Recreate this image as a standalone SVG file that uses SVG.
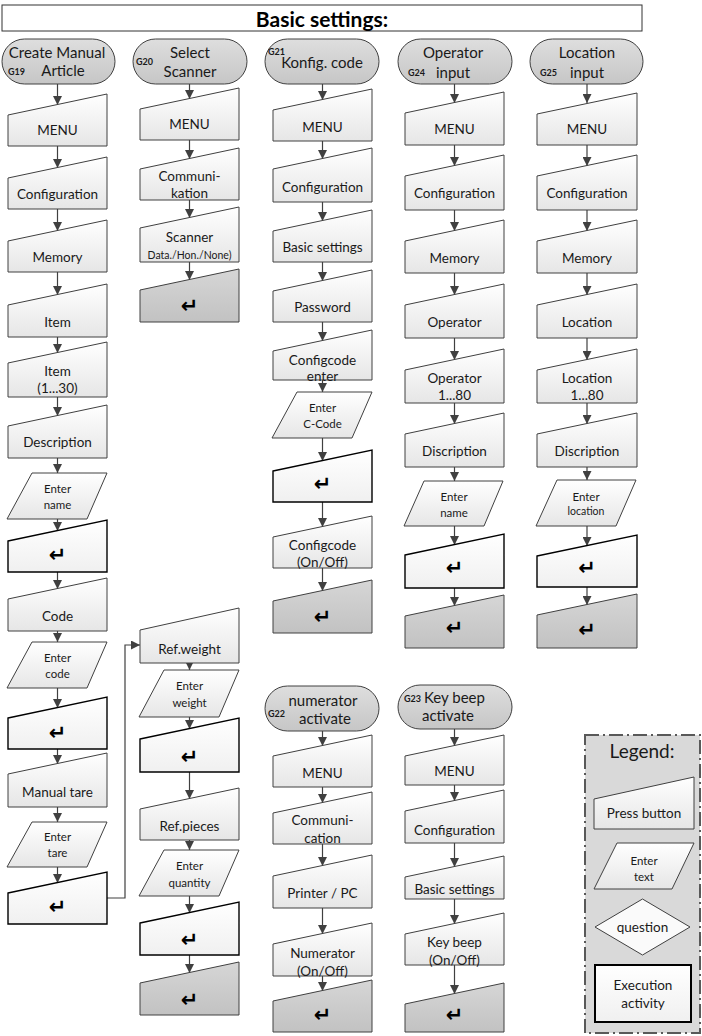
<svg xmlns="http://www.w3.org/2000/svg" width="702" height="1036" viewBox="0 0 702 1036">
<style>
.box{fill:url(#gL);stroke:#404040;stroke-width:1}
.ent{fill:url(#gW);stroke:#000;stroke-width:1.4}
.gray{fill:url(#gG);stroke:#404040;stroke-width:1}
.pill{fill:url(#gP);stroke:#404040;stroke-width:1}
.t{font-family:Lato,"Liberation Sans",sans-serif;font-size:13.5px;fill:#1a1a1a;text-anchor:middle;dominant-baseline:central}
.s{font-size:11.5px}
.xs{font-size:10.5px}
.p{font-size:15px}
.g{font-size:9px;font-weight:bold;text-anchor:start}
.ret{font-family:"DejaVu Sans",sans-serif;font-size:21px;font-weight:bold;fill:#000;text-anchor:middle;dominant-baseline:central}
.c{fill:none;stroke:#404040;stroke-width:1.2;marker-end:url(#ah)}
</style>
<defs>
<linearGradient id="gL" x1="0" y1="0" x2="0" y2="1"><stop offset="0" stop-color="#ffffff"/><stop offset="1" stop-color="#e6e6e6"/></linearGradient>
<linearGradient id="gW" x1="0" y1="0" x2="0" y2="1"><stop offset="0" stop-color="#ffffff"/><stop offset="1" stop-color="#f0f0f0"/></linearGradient>
<linearGradient id="gG" x1="0" y1="0" x2="0" y2="1"><stop offset="0" stop-color="#d6d6d6"/><stop offset="1" stop-color="#c2c2c2"/></linearGradient>
<linearGradient id="gP" x1="0" y1="0" x2="0" y2="1"><stop offset="0" stop-color="#dedede"/><stop offset="1" stop-color="#c6c6c6"/></linearGradient>
<marker id="ah" viewBox="0 0 10 10" refX="10" refY="5" markerWidth="9" markerHeight="9" markerUnits="userSpaceOnUse" orient="auto"><path d="M0,0 L10,5 L0,10 z" fill="#404040"/></marker>
</defs>
<rect width="702" height="1036" fill="#fff"/>

<g id="title">
<rect x="2" y="5" width="640" height="26" fill="#fff" stroke="#333" stroke-width="1"/>
<text class="t" x="322" y="18" style="font-size:21px;font-weight:bold;fill:#000">Basic settings:</text>
</g>

<g id="connectors">
<path class="c" d="M57.5,84 V105"/>
<path class="c" d="M57.5,146 V168"/>
<path class="c" d="M57.5,209 V231"/>
<path class="c" d="M57.5,272 V295"/>
<path class="c" d="M57.5,337 V353"/>
<path class="c" d="M57.5,397 V416"/>
<path class="c" d="M57.5,458 V473"/>
<path class="c" d="M57.5,519 V531"/>
<path class="c" d="M57.5,572 V589"/>
<path class="c" d="M57.5,631 V642"/>
<path class="c" d="M57.5,688 V708"/>
<path class="c" d="M57.5,749 V764"/>
<path class="c" d="M57.5,807 V822"/>
<path class="c" d="M57.5,867 V883"/>
<path class="c" d="M107,898 H125 V645 H140"/>
<path class="c" d="M189.5,84 V99"/>
<path class="c" d="M189.5,140 V159"/>
<path class="c" d="M189.5,200 V218"/>
<path class="c" d="M189.5,262 V280"/>
<path class="c" d="M189.5,663 V670"/>
<path class="c" d="M189.5,717 V729"/>
<path class="c" d="M189.5,772 V799"/>
<path class="c" d="M189.5,840 V850"/>
<path class="c" d="M189.5,896 V913"/>
<path class="c" d="M189.5,955 V973"/>
<path class="c" d="M322.5,84 V100"/>
<path class="c" d="M322.5,141 V159"/>
<path class="c" d="M322.5,202 V221"/>
<path class="c" d="M322.5,262 V281"/>
<path class="c" d="M322.5,322 V341"/>
<path class="c" d="M322.5,380 V392"/>
<path class="c" d="M322.5,438 V461"/>
<path class="c" d="M322.5,502 V527"/>
<path class="c" d="M322.5,568 V591"/>
<path class="c" d="M322.5,731 V746"/>
<path class="c" d="M322.5,787 V803"/>
<path class="c" d="M322.5,844 V866"/>
<path class="c" d="M322.5,908 V934"/>
<path class="c" d="M322.5,976 V991"/>
<path class="c" d="M454.5,84 V103"/>
<path class="c" d="M454.5,145 V166"/>
<path class="c" d="M454.5,210 V231"/>
<path class="c" d="M454.5,273 V295"/>
<path class="c" d="M454.5,338 V360"/>
<path class="c" d="M454.5,403 V424"/>
<path class="c" d="M454.5,467 V481"/>
<path class="c" d="M454.5,526 V545"/>
<path class="c" d="M454.5,588 V606"/>
<path class="c" d="M454.5,729 V746"/>
<path class="c" d="M454.5,785 V801"/>
<path class="c" d="M454.5,843 V867"/>
<path class="c" d="M454.5,899 V924"/>
<path class="c" d="M454.5,965 V994"/>
<path class="c" d="M587,84 V103"/>
<path class="c" d="M587,145 V166"/>
<path class="c" d="M587,210 V231"/>
<path class="c" d="M587,273 V295"/>
<path class="c" d="M587,338 V360"/>
<path class="c" d="M587,403 V424"/>
<path class="c" d="M587,467 V480"/>
<path class="c" d="M587,526 V546"/>
<path class="c" d="M587,587 V605"/>
</g>

<!-- Column 1: G19 -->
<g id="g19-start"><rect class="pill" x="2" y="39" width="113" height="45" rx="22.5"/>
<text class="t p" x="57" y="52">Create Manual</text><text class="t p" x="63" y="70">Article</text><text class="t g" x="8" y="71">G19</text></g>
<g id="g19-menu"><polygon class="box" points="8,115 107,94 107,146 8,146"/><text class="t" x="57.5" y="130">MENU</text></g>
<g id="g19-config"><polygon class="box" points="8,178 107,157 107,209 8,209"/><text class="t" x="57.5" y="194">Configuration</text></g>
<g id="g19-memory"><polygon class="box" points="8,241 107,220 107,272 8,272"/><text class="t" x="57.5" y="257">Memory</text></g>
<g id="g19-item"><polygon class="box" points="8,305 107,284 107,337 8,337"/><text class="t" x="57.5" y="322">Item</text></g>
<g id="g19-item130"><polygon class="box" points="8,363 107,342 107,397 8,397"/><text class="t" x="57.5" y="371">Item</text><text class="t" x="57.5" y="388">(1...30)</text></g>
<g id="g19-desc"><polygon class="box" points="8,426 107,405 107,458 8,458"/><text class="t" x="57.5" y="442">Description</text></g>
<g id="g19-entername"><polygon class="box" points="32,473 107,473 87,519 7,519"/><text class="t s" x="57.5" y="488">Enter</text><text class="t s" x="57.5" y="504">name</text></g>
<g id="g19-ret1"><polygon class="ent" points="8,541 107,520 107,572 8,572"/><text class="ret" x="57.5" y="555">↵</text></g>
<g id="g19-code"><polygon class="box" points="8,599 107,578 107,631 8,631"/><text class="t" x="57.5" y="616">Code</text></g>
<g id="g19-entercode"><polygon class="box" points="32,642 107,642 87,688 7,688"/><text class="t s" x="57.5" y="657">Enter</text><text class="t s" x="57.5" y="673">code</text></g>
<g id="g19-ret2"><polygon class="ent" points="8,718 107,697 107,749 8,749"/><text class="ret" x="57.5" y="733">↵</text></g>
<g id="g19-tare"><polygon class="box" points="8,774 107,753 107,807 8,807"/><text class="t" x="57.5" y="792">Manual tare</text></g>
<g id="g19-entertare"><polygon class="box" points="32,822 107,822 87,867 7,867"/><text class="t s" x="57.5" y="836">Enter</text><text class="t s" x="57.5" y="852">tare</text></g>
<g id="g19-ret3"><polygon class="ent" points="8,893 107,872 107,924 8,924"/><text class="ret" x="57.5" y="907">↵</text></g>

<!-- Column 2: G20 + ref -->
<g id="g20-start"><rect class="pill" x="133" y="39" width="114" height="45" rx="22.5"/>
<text class="t p" x="190" y="52">Select</text><text class="t p" x="190" y="71">Scanner</text><text class="t g" x="136" y="61">G20</text></g>
<g id="g20-menu"><polygon class="box" points="140,109 239,88 239,140 140,140"/><text class="t" x="189.5" y="124">MENU</text></g>
<g id="g20-comm"><polygon class="box" points="140,169 239,148 239,200 140,200"/><text class="t" x="189.5" y="176">Communi-</text><text class="t" x="189.5" y="193">kation</text></g>
<g id="g20-scanner"><polygon class="box" points="140,228 239,207 239,262 140,262"/><text class="t" x="189.5" y="237">Scanner</text><text class="t xs" x="189.5" y="255">Data./Hon./None)</text></g>
<g id="g20-end"><polygon class="gray" points="140,290 239,269 239,322 140,322"/><text class="ret" x="189.5" y="306">↵</text></g>
<g id="ref-weight"><polygon class="box" points="140,630 239,608 239,663 140,663"/><text class="t" x="189.5" y="649">Ref.weight</text></g>
<g id="ref-enterweight"><polygon class="box" points="164,670 239,670 219,717 139,717"/><text class="t s" x="189.5" y="685">Enter</text><text class="t s" x="189.5" y="702">weight</text></g>
<g id="ref-ret1"><polygon class="ent" points="140,739 239,718 239,772 140,772"/><text class="ret" x="189.5" y="757">↵</text></g>
<g id="ref-pieces"><polygon class="box" points="140,809 239,788 239,840 140,840"/><text class="t" x="189.5" y="826">Ref.pieces</text></g>
<g id="ref-enterqty"><polygon class="box" points="164,850 239,850 219,896 139,896"/><text class="t s" x="189.5" y="865">Enter</text><text class="t s" x="189.5" y="882">quantity</text></g>
<g id="ref-ret2"><polygon class="ent" points="140,923 239,902 239,955 140,955"/><text class="ret" x="189.5" y="940">↵</text></g>
<g id="ref-end"><polygon class="gray" points="140,983 239,962 239,1015 140,1015"/><text class="ret" x="189.5" y="1000">↵</text></g>

<!-- Column 3: G21 -->
<g id="g21-start"><rect class="pill" x="265" y="39" width="114" height="45" rx="22.5"/>
<text class="t p" x="322" y="62">Konfig. code</text><text class="t g" x="268" y="51">G21</text></g>
<g id="g21-menu"><polygon class="box" points="273,110 372,89 372,141 273,141"/><text class="t" x="322.5" y="127">MENU</text></g>
<g id="g21-config"><polygon class="box" points="273,169 372,148 372,202 273,202"/><text class="t" x="322.5" y="187">Configuration</text></g>
<g id="g21-basic"><polygon class="box" points="273,231 372,210 372,262 273,262"/><text class="t" x="322.5" y="247">Basic settings</text></g>
<g id="g21-pass"><polygon class="box" points="273,291 372,270 372,322 273,322"/><text class="t" x="322.5" y="307">Password</text></g>
<g id="g21-ccenter"><polygon class="box" points="273,351 372,330 372,380 273,380"/><text class="t" x="322.5" y="360">Configcode</text><text class="t" x="322.5" y="376">enter</text></g>
<g id="g21-entercc"><polygon class="box" points="297,392 372,392 352,438 272,438"/><text class="t s" x="322.5" y="407">Enter</text><text class="t s" x="322.5" y="423">C-Code</text></g>
<g id="g21-ret"><polygon class="ent" points="273,471 372,450 372,502 273,502"/><text class="ret" x="322.5" y="484">↵</text></g>
<g id="g21-onoff"><polygon class="box" points="273,537 372,516 372,568 273,568"/><text class="t" x="322.5" y="545">Configcode</text><text class="t" x="322.5" y="562">(On/Off)</text></g>
<g id="g21-end"><polygon class="gray" points="273,601 372,580 372,633 273,633"/><text class="ret" x="322.5" y="617">↵</text></g>

<!-- Column 3 lower: G22 -->
<g id="g22-start"><rect class="pill" x="265" y="686" width="114" height="45" rx="22.5"/>
<text class="t p" x="323" y="700">numerator</text><text class="t p" x="325" y="718">activate</text><text class="t g" x="268" y="713">G22</text></g>
<g id="g22-menu"><polygon class="box" points="273,756 372,735 372,787 273,787"/><text class="t" x="322.5" y="773">MENU</text></g>
<g id="g22-comm"><polygon class="box" points="273,813 372,792 372,844 273,844"/><text class="t" x="322.5" y="820">Communi-</text><text class="t" x="322.5" y="838">cation</text></g>
<g id="g22-printer"><polygon class="box" points="273,876 372,855 372,908 273,908"/><text class="t" x="322.5" y="893">Printer / PC</text></g>
<g id="g22-num"><polygon class="box" points="273,944 372,923 372,976 273,976"/><text class="t" x="322.5" y="953">Numerator</text><text class="t" x="322.5" y="971">(On/Off)</text></g>
<g id="g22-end"><polygon class="gray" points="273,1001 372,980 372,1032 273,1032"/><text class="ret" x="322.5" y="1015">↵</text></g>

<!-- Column 4: G24 -->
<g id="g24-start"><rect class="pill" x="398" y="39" width="114" height="45" rx="22.5"/>
<text class="t p" x="453" y="52">Operator</text><text class="t p" x="453" y="72">input</text><text class="t g" x="408" y="72">G24</text></g>
<g id="g24-menu"><polygon class="box" points="405,113 504,92 504,145 405,145"/><text class="t" x="454.5" y="129">MENU</text></g>
<g id="g24-config"><polygon class="box" points="405,176 504,155 504,210 405,210"/><text class="t" x="454.5" y="193">Configuration</text></g>
<g id="g24-memory"><polygon class="box" points="405,241 504,220 504,273 405,273"/><text class="t" x="454.5" y="258">Memory</text></g>
<g id="g24-op"><polygon class="box" points="405,305 504,284 504,338 405,338"/><text class="t" x="454.5" y="322">Operator</text></g>
<g id="g24-op180"><polygon class="box" points="405,370 504,349 504,403 405,403"/><text class="t" x="454.5" y="378">Operator</text><text class="t" x="454.5" y="395">1...80</text></g>
<g id="g24-disc"><polygon class="box" points="405,434 504,413 504,467 405,467"/><text class="t" x="454.5" y="451">Discription</text></g>
<g id="g24-entername"><polygon class="box" points="424,481 503,481 484,526 404,526"/><text class="t s" x="454" y="496">Enter</text><text class="t s" x="454" y="512">name</text></g>
<g id="g24-ret"><polygon class="ent" points="405,555 504,534 504,588 405,588"/><text class="ret" x="454.5" y="568">↵</text></g>
<g id="g24-end"><polygon class="gray" points="405,616 504,595 504,648 405,648"/><text class="ret" x="454.5" y="628">↵</text></g>

<!-- Column 4 lower: G23 -->
<g id="g23-start"><rect class="pill" x="398" y="685" width="114" height="44" rx="22"/>
<text class="t g" x="404" y="698" style="font-size:9px">G23</text><text class="t p" x="424" y="697" style="text-anchor:start">Key beep</text><text class="t p" x="448" y="715">activate</text></g>
<g id="g23-menu"><polygon class="box" points="405,756 504,735 504,785 405,785"/><text class="t" x="454.5" y="771">MENU</text></g>
<g id="g23-config"><polygon class="box" points="405,811 504,790 504,843 405,843"/><text class="t" x="454.5" y="830">Configuration</text></g>
<g id="g23-basic"><polygon class="box" points="405,877 504,856 504,899 405,899"/><text class="t" x="454.5" y="889">Basic settings</text></g>
<g id="g23-keybeep"><polygon class="box" points="405,934 504,913 504,965 405,965"/><text class="t" x="454.5" y="942">Key beep</text><text class="t" x="454.5" y="960">(On/Off)</text></g>
<g id="g23-end"><polygon class="gray" points="405,1004 504,983 504,1032 405,1032"/><text class="ret" x="454.5" y="1015">↵</text></g>

<!-- Column 5: G25 -->
<g id="g25-start"><rect class="pill" x="530" y="39" width="113" height="45" rx="22.5"/>
<text class="t p" x="587" y="52">Location</text><text class="t p" x="587" y="72">input</text><text class="t g" x="540" y="72">G25</text></g>
<g id="g25-menu"><polygon class="box" points="537,114 637,93 637,145 537,145"/><text class="t" x="587" y="129">MENU</text></g>
<g id="g25-config"><polygon class="box" points="537,176 637,155 637,210 537,210"/><text class="t" x="587" y="193">Configuration</text></g>
<g id="g25-memory"><polygon class="box" points="537,241 637,220 637,273 537,273"/><text class="t" x="587" y="258">Memory</text></g>
<g id="g25-loc"><polygon class="box" points="537,305 637,284 637,338 537,338"/><text class="t" x="587" y="322">Location</text></g>
<g id="g25-loc180"><polygon class="box" points="537,370 637,349 637,403 537,403"/><text class="t" x="587" y="378">Location</text><text class="t" x="587" y="395">1...80</text></g>
<g id="g25-disc"><polygon class="box" points="537,434 637,413 637,467 537,467"/><text class="t" x="587" y="451">Discription</text></g>
<g id="g25-enterloc"><polygon class="box" points="557,480 636,480 616,526 536,526"/><text class="t s" x="586" y="496">Enter</text><text class="t xs" x="586" y="511">location</text></g>
<g id="g25-ret"><polygon class="ent" points="537,556 637,535 637,587 537,587"/><text class="ret" x="587" y="568">↵</text></g>
<g id="g25-end"><polygon class="gray" points="537,615 637,594 637,648 537,648"/><text class="ret" x="587" y="630">↵</text></g>

<!-- Legend -->
<g id="legend">
<rect x="585" y="735" width="115" height="298" fill="#d9d9d9" stroke="#595959" stroke-width="2" stroke-dasharray="14 4 2 4"/>
<text class="t" x="642" y="750" style="font-size:19px">Legend:</text>
<polygon class="box" points="594,799 694,777 694,829 594,829"/><text class="t" x="644" y="813">Press button</text>
<polygon class="box" points="617,843 694,843 672,889 594,889"/><text class="t s" x="644" y="860">Enter</text><text class="t s" x="644" y="876">text</text>
<polygon points="642.5,899 690,927 642.5,955 595,927" fill="#fafafa" stroke="#404040" stroke-width="1"/><text class="t" x="642.5" y="927">question</text>
<rect x="595" y="965" width="96" height="57" fill="url(#gW)" stroke="#000" stroke-width="2"/><text class="t" x="643" y="985">Execution</text><text class="t" x="643" y="1003">activity</text>
</g>
</svg>
